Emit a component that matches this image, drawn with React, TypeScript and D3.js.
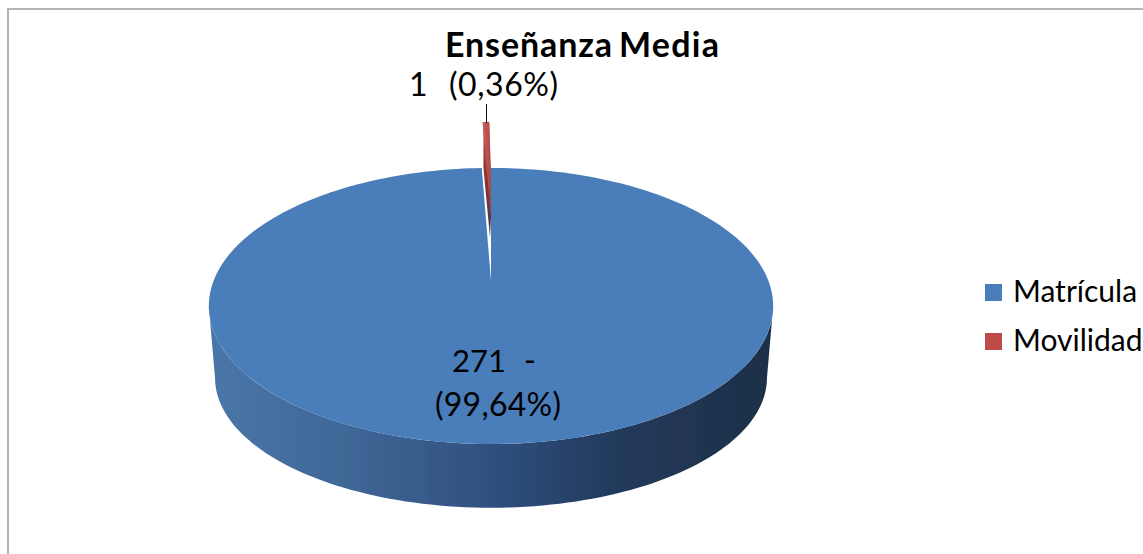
import React from "react";
import * as d3 from "d3";

const categories = ["Matrícula", "Movilidad"];
const values = [271, 1];
const colors = ["#4a7ebb", "#be4b48"];
const sideStops = [
  ["0%", "#4a76a8"],
  ["25%", "#3f6696"],
  ["50%", "#2f5080"],
  ["72%", "#233a5c"],
  ["100%", "#1d2f48"],
];

const WIDTH = 1143;
const HEIGHT = 554;
const FONT = "Lato, Carlito, Calibri, sans-serif";

// the disc is tilted with perspective, so the centre is not the middle of the ellipse
const CX = 491;
const CY = 281;
const K = 0.181;
const B = 133.5;
const C = 277.5;
const DEPTH = 72;
const EXPLODE = 0.52;
const WIDEN = 1.7; // sliver reads wider than its share in the picture

function project(angle: number, r: number, vShift = 0): [number, number] {
  const u = r * Math.sin(angle);
  const v = -r * Math.cos(angle) + vShift;
  const w = 1 - K * v;
  return [CX + (C * u) / w, CY + (B * v) / w];
}

const line = d3.line();

export default function App() {
  const arcs = d3.pie<number>().sort(null)(values);
  const sliver = (arcs[1].endAngle - arcs[1].startAngle) * WIDEN;
  const blueEnd = Math.PI * 2 - sliver;
  const t = d3.scaleLinear().domain([0, 240]);

  const bluePts: [number, number][] = [project(0, 0)];
  d3.range(241).forEach((i) => bluePts.push(project(t.range([0, blueEnd])(i), 1)));

  const fullPts = d3.range(241).map((i) => project(t.range([0, Math.PI * 2])(i), 1));
  const bottomPts = fullPts.map(
    ([x, y]) => [CX + (x - CX) * 0.978, y + DEPTH + (y - 306) * -0.06] as [number, number]
  );
  const frontTop = fullPts
    .filter(([, y]) => y >= 306)
    .sort((a, b) => a[0] - b[0]);
  const frontBottom = bottomPts
    .filter(([, y]) => y >= 306 + DEPTH)
    .sort((a, b) => b[0] - a[0]);

  const redApex = project(0, 0, -EXPLODE);
  const redRim = d3
    .range(7)
    .map((i) => project(blueEnd + (sliver * 0.8 * i) / 6, 1, -EXPLODE));
  const redLeft = redRim[0];
  const redRight = redRim[redRim.length - 1];
  const redWall: [number, number][] = [
    [redLeft[0] + 1, redLeft[1] + 2],
    [redLeft[0] + 1, redLeft[1] + 46],
    [redApex[0] - 1, redApex[1] + 20],
    [redApex[0], redApex[1]],
    [redRight[0] + 1.5, redRight[1] + 46],
    [redRight[0], redRight[1] + 2],
  ];

  return (
    <svg
      width={WIDTH}
      height={HEIGHT}
      style={{ position: "absolute", left: 0, top: 0 }}
      fontFamily={FONT}
    >
      <defs>
        <linearGradient id="side" gradientUnits="userSpaceOnUse" x1={212} x2={770} y1={0} y2={0}>
          {sideStops.map(([o, c]) => (
            <stop key={o} offset={o} stopColor={c} />
          ))}
        </linearGradient>
        <linearGradient id="red" x1="0" x2="1" y1="0" y2="0">
          <stop offset="0%" stopColor="#c9605c" />
          <stop offset="100%" stopColor="#b04643" />
        </linearGradient>
        <linearGradient id="redDark" x1="0" x2="0" y1="0" y2="1">
          <stop offset="0%" stopColor="#b54a47" />
          <stop offset="45%" stopColor="#8a3534" />
          <stop offset="100%" stopColor="#4a3550" />
        </linearGradient>
        <filter id="soft" x="-5%" y="-5%" width="110%" height="110%">
          <feGaussianBlur stdDeviation="0.5" />
        </filter>
      </defs>

      <rect width={WIDTH} height={HEIGHT} fill="#fff" />
      <path d="M8,554V9H1143" fill="none" stroke="#b4b4b4" strokeWidth={2} />

      <g filter="url(#soft)">
        <path d={line([...frontTop, ...frontBottom])! + "Z"} fill="url(#side)" />
        <path d={line(bluePts)! + "Z"} fill={colors[0]} />
        <path d={line(redWall)! + "Z"} fill="url(#redDark)" />
        <path d={line([redApex, ...redRim])! + "Z"} fill="url(#red)" />
      </g>

      <line x1={486.5} x2={486.5} y1={104} y2={123} stroke="#111" strokeWidth={1} />

      <text x={445} y={57} fontSize={34} fontWeight={700} fill="#000" textLength={167}>
        Enseñanza
      </text>
      <text x={619} y={57} fontSize={34} fontWeight={700} fill="#000" textLength={100}>
        Media
      </text>
      <text x={409} y={96} fontSize={32} fill="#000">1</text>
      <text x={449} y={96} fontSize={32} fill="#000" textLength={109}>(0,36%)</text>
      <text x={452} y={372} fontSize={31} fill="#000">271</text>
      <text x={524} y={372} fontSize={32} fill="#000">-</text>
      <text x={435} y={416} fontSize={32} fill="#000" textLength={126}>(99,64%)</text>

      {categories.map((name, i) => (
        <g key={name}>
          <rect x={985} y={284 + i * 49} width={17} height={17} fill={colors[i]} />
          <text x={1013} y={302 + i * 49} fontSize={30} fill="#000">
            {name}
          </text>
        </g>
      ))}
    </svg>
  );
}
